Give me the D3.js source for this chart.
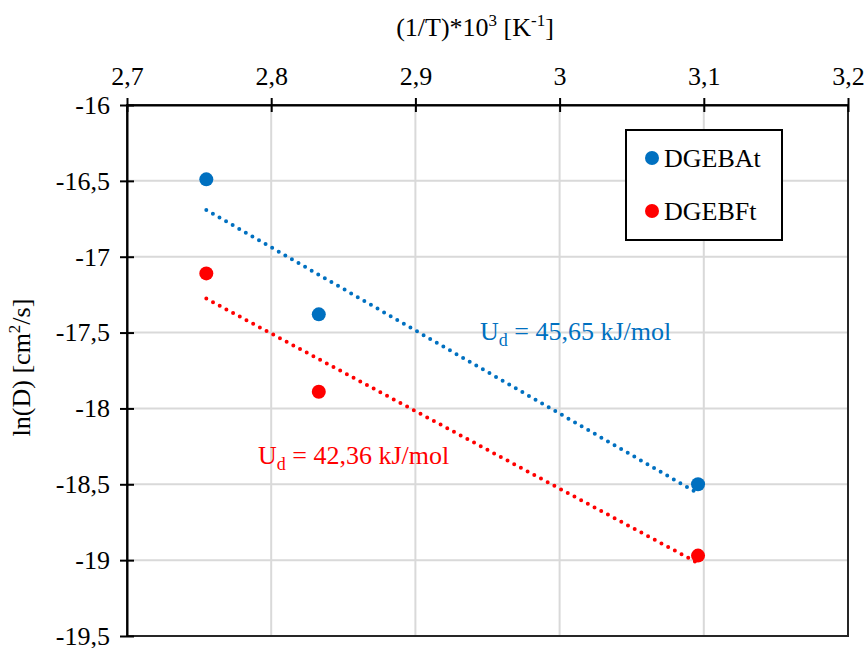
<!DOCTYPE html>
<html>
<head>
<meta charset="utf-8">
<script src="https://cdn.jsdelivr.net/npm/d3@7.9.0/dist/d3.min.js"></script>
<style>
  body { margin: 0; background: #fff; }
  svg text { font-family: "Liberation Serif", serif !important; }
</style>
</head>
<body>
<svg id="chart" width="868" height="648"></svg>
<script>
// data
const invT = [2.755, 2.833, 3.096];
const lnD_A = [-16.49, -17.38, -18.50];
const lnD_F = [-17.11, -17.89, -18.97];
const seriesNames = ['DGEBAt', 'DGEBFt'];
const seriesColors = ['#0070C0', '#FF0000'];
const energyLabels = ['45,65', '42,36'];
const xTicks = [2.7, 2.8, 2.9, 3.0, 3.1, 3.2];
const yTicks = [-16, -16.5, -17, -17.5, -18, -18.5, -19, -19.5];

const svg = d3.select('#chart');
const pLeft = 127, pRight = 848, pTop = 105, pBottom = 636;
const FS = 26;

let x = d3.scaleLinear().domain([2.7, 3.2]).range([pLeft, pRight]);
let y = d3.scaleLinear().domain([-19.5, -16]).range([pBottom, pTop]);
const fmt = (d) => String(+d.toFixed(1)).replace('.', ',');

// gridlines
svg.append('g').selectAll('line').data(xTicks.slice(1)).join('line')
  .attr('x1', d => x(d)).attr('x2', d => x(d)).attr('y1', pTop).attr('y2', pBottom)
  .attr('stroke', '#d9d9d9').attr('stroke-width', 2);
svg.append('g').selectAll('line').data(yTicks.slice(1)).join('line')
  .attr('x1', pLeft).attr('x2', pRight).attr('y1', d => y(d)).attr('y2', d => y(d))
  .attr('stroke', '#d9d9d9').attr('stroke-width', 2);

// plot border
svg.append('rect').attr('x', pLeft).attr('y', pTop)
  .attr('width', pRight - pLeft).attr('height', pBottom - pTop)
  .attr('fill', 'none').attr('stroke', '#262626').attr('stroke-width', 2);

// top x axis with crossing ticks
let xAxis = svg.append('g').attr('transform', `translate(0,${pTop})`)
  .call(d3.axisTop(x).tickValues(xTicks).tickSizeInner(7).tickSizeOuter(0).tickPadding(13).tickFormat(fmt));
xAxis.attr('font-family', 'Liberation Serif').attr('font-size', FS);
xAxis.select('.domain').attr('stroke', '#000').attr('stroke-width', 2);
xAxis.selectAll('.tick line').attr('y2', 7).attr('y1', -7).attr('stroke', '#000').attr('stroke-width', 2);
xAxis.selectAll('.tick text').attr('fill', '#000');

// left y axis with crossing ticks
let yAxis = svg.append('g').attr('transform', `translate(${pLeft},0)`)
  .call(d3.axisLeft(y).tickValues(yTicks).tickSizeInner(7).tickSizeOuter(0).tickPadding(10)
    .tickFormat(fmt));
yAxis.attr('font-family', 'Liberation Serif').attr('font-size', FS);
yAxis.select('.domain').attr('stroke', '#000').attr('stroke-width', 2);
yAxis.selectAll('.tick line').attr('x1', -7).attr('x2', 7).attr('stroke', '#000').attr('stroke-width', 2);
yAxis.selectAll('.tick text').attr('fill', '#000');

// axis titles
let xt = svg.append('text').attr('x', 475).attr('y', 36)
  .attr('text-anchor', 'middle').attr('font-size', FS);
xt.append('tspan').text('(1/T)*10');
xt.append('tspan').attr('font-size', 17).attr('dy', -10).text('3');
xt.append('tspan').attr('dy', 10).text(' [K');
xt.append('tspan').attr('font-size', 17).attr('dy', -10).text('-1');
xt.append('tspan').attr('dy', 10).text(']');

let yt = svg.append('text').attr('transform', `translate(30,${(pTop + pBottom) / 2 - 3}) rotate(-90)`)
  .attr('text-anchor', 'middle').attr('font-size', FS);
yt.append('tspan').text('ln(D) [cm');
yt.append('tspan').attr('font-size', 17).attr('dy', -10).text('2');
yt.append('tspan').attr('dy', 10).text('/s]');

// linear trendlines (least squares), dotted
function fit(xs, ys) {
  const mx = d3.mean(xs), my = d3.mean(ys);
  const sxy = d3.sum(xs, (v, i) => (v - mx) * (ys[i] - my));
  const sxx = d3.sum(xs, v => (v - mx) ** 2);
  const b = sxy / sxx;
  return v => my + b * (v - mx);
}
const series = [lnD_A, lnD_F];
const ext = d3.extent(invT);
series.forEach((ys, i) => {
  const f = fit(invT, ys);
  svg.append('path')
    .attr('d', d3.line()([[x(ext[0]), y(f(ext[0]))], [x(ext[1]), y(f(ext[1]))]]))
    .attr('stroke', seriesColors[i]).attr('stroke-width', 4)
    .attr('stroke-linecap', 'round').attr('stroke-dasharray', '0 7.6');
});

// markers
series.forEach((ys, i) => {
  svg.append('g').selectAll('circle').data(invT).join('circle')
    .attr('cx', d => x(d)).attr('cy', (d, j) => y(ys[j])).attr('r', 7)
    .attr('fill', seriesColors[i]);
});

// legend
svg.append('rect').attr('x', 626).attr('y', 130).attr('width', 156).attr('height', 110)
  .attr('fill', '#fff').attr('stroke', '#000').attr('stroke-width', 2);
seriesNames.forEach((name, i) => {
  const cy = 158 + i * 53;
  svg.append('circle').attr('cx', 652).attr('cy', cy).attr('r', 7).attr('fill', seriesColors[i]);
  svg.append('text').attr('x', 664).attr('y', cy + 9).attr('font-size', FS).text(name);
});

// activation energy labels
const annPos = [[480, 340], [258, 464]];
energyLabels.forEach((val, i) => {
  const t = svg.append('text').attr('x', annPos[i][0]).attr('y', annPos[i][1])
    .attr('font-size', FS).attr('fill', seriesColors[i]);
  t.append('tspan').text('U');
  t.append('tspan').attr('font-size', 18).attr('dy', 6).text('d');
  t.append('tspan').attr('dy', -6).text(' = ' + val + ' kJ/mol');
});
</script>
</body>
</html>
